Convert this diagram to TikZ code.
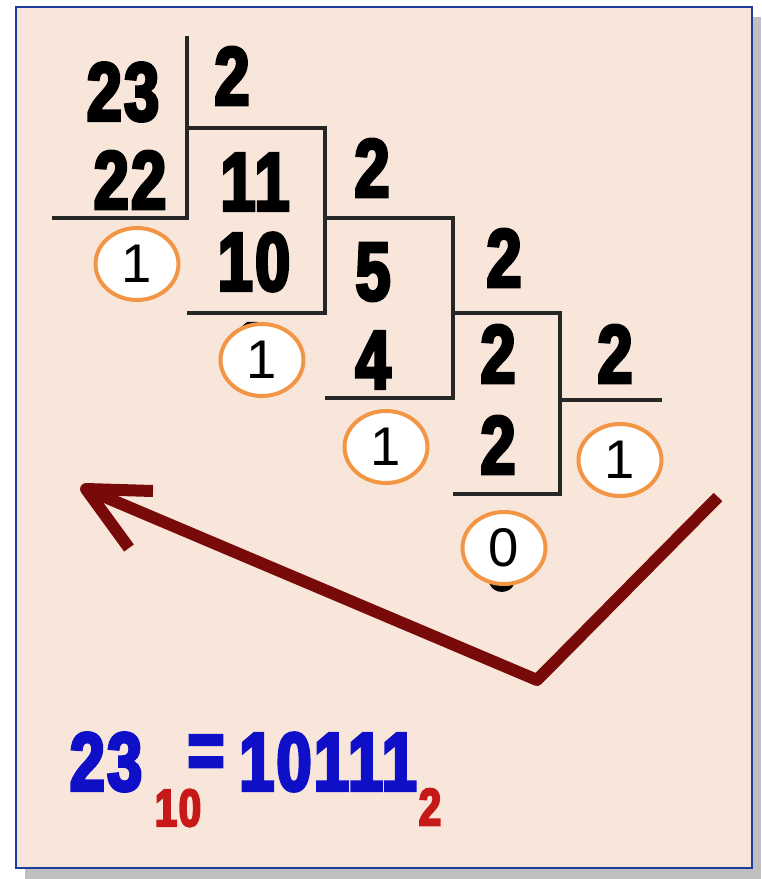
\documentclass[tikz,border=0pt]{standalone}
\usepackage{fontspec}
\setmainfont{Liberation Sans}
\newfontfamily\digitfont{Liberation Sans}[FakeStretch=0.76,FakeBold=4,LetterSpace=3]
\usetikzlibrary{shapes.geometric}
\definecolor{paper}{RGB}{249,230,218}
\definecolor{frameblue}{RGB}{30,60,160}
\definecolor{ringorange}{RGB}{242,150,70}
\definecolor{arrowred}{RGB}{120,10,10}
\definecolor{numblue}{RGB}{15,15,200}
\definecolor{subred}{RGB}{200,25,25}
\tikzset{
  digit/.style={inner sep=0pt,font=\digitfont\bfseries\fontsize{47}{47}\selectfont},
  subdigit/.style={inner sep=0pt,text=subred,font=\digitfont\bfseries\fontsize{30}{30}\selectfont},
  remainder/.style={ellipse,draw=ringorange,fill=white,line width=0.08cm,inner sep=0pt,
    minimum width=1.66cm,minimum height=1.44cm,font=\fontsize{31}{31}\selectfont},
  divline/.style={line width=0.08cm,draw=black!85},
  backarrow/.style={line width=0.24cm,draw=arrowred,line join=round}
}

\begin{document}
\begin{tikzpicture}[x=0.02cm,y=-0.02cm]
  \useasboundingbox (0,0) rectangle (761,879);
  \fill[black!25] (25,17) rectangle (761,879);
  \filldraw[fill=paper,draw=frameblue,line width=0.04cm] (16,7) rectangle (752,868);

  % division ladder
  \node[digit] (n23) at (123,92) {23};
  \node[digit] (sub22) at (130,180) {22};
  \node[digit] (div1) at (232,76) {2};
  \node[digit] (q11) at (255,182) {11};
  \node[digit] (sub10) at (254,262) {10};
  \node[digit] (div2) at (372,168) {2};
  \node[digit] (q5) at (373,272) {5};
  \node[digit] (sub4) at (373,360) {4};
  \node[digit] (div3) at (504,258) {2};
  \node[digit] (q2) at (498,354) {2};
  \node[digit] (sub2) at (498,445) {2};
  \node[digit] (div4) at (615,354) {2};
  \node[digit] (hid1) at (250,352) {1};
  \node[digit] (hid0) at (502,561) {0};

  \draw[divline] (187,36) -- (187,218) -- (52,218);
  \draw[divline] (187,128) -- (325,128) -- (325,313) -- (187,313);
  \draw[divline] (325,218) -- (453,218) -- (453,398) -- (325,398);
  \draw[divline] (453,313) -- (560,313) -- (560,494) -- (453,494);
  \draw[divline] (560,400) -- (662,400);

  % remainders
  \node[remainder] (r1) at (137,264) {1};
  \node[remainder] (r2) at (262,360) {1};
  \node[remainder] (r3) at (386,447) {1};
  \node[remainder] (r4) at (620,460) {1};
  \node[remainder] (r5) at (504,548) {0};

  % read upwards
  \coordinate (start) at (718,497);
  \coordinate (turn) at (537,680);
  \coordinate (tip) at (86,489);
  \draw[backarrow] (start) -- (turn) -- (tip);
  \draw[backarrow] (153,491) -- (tip) -- (129,548);

  % result
  \node[digit,text=numblue] (dec) at (106,762) {23};
  \node[subdigit] (ten) at (178,808) {10};
  \node[digit,text=numblue] (eq) at (206,757) {=};
  \node[digit,text=numblue] (bin) at (328,762) {10111};
  \node[subdigit] (two) at (430,807) {2};
\end{tikzpicture}
\end{document}
